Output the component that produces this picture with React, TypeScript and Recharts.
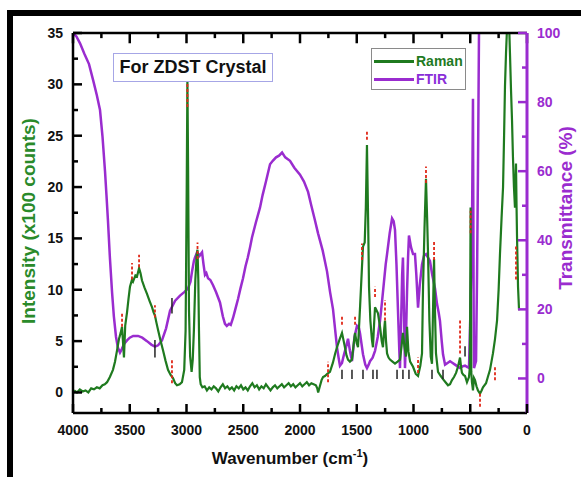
import { LineChart, Line, XAxis, YAxis, ReferenceLine, Legend } from 'recharts';

const GREEN = '#1f7a1f';
const PURPLE = '#9a2ccf';
const FONT = '"Liberation Sans", Arial, sans-serif';

// Raman spectrum (left axis, x100 counts)
const ramanWavenumber = [
  3990, 3965, 3940, 3915, 3890, 3865, 3840, 3815, 3790, 3765, 3740, 3720, 3700, 3675, 3648, 3630, 3612, 3595,
  3580, 3568, 3560, 3551, 3540, 3524, 3510, 3498, 3480, 3471, 3450, 3436, 3418, 3405, 3392, 3370, 3348, 3325,
  3304, 3290, 3278, 3265, 3251, 3230, 3207, 3185, 3163, 3140, 3119, 3100, 3084, 3060, 3040, 3020, 3008, 2998,
  2992, 2986, 2978, 2968, 2955, 2945, 2935, 2922, 2910, 2903, 2896, 2890, 2883, 2875,
  2860, 2840, 2820, 2800, 2780, 2760, 2740, 2720, 2700, 2680, 2660, 2640, 2620, 2600, 2580, 2560, 2540, 2520,
  2500, 2480, 2460, 2440, 2420, 2400, 2380, 2360, 2340, 2320, 2300, 2280, 2260, 2240, 2220, 2200, 2180, 2160,
  2140, 2120, 2100, 2080, 2060, 2040, 2020, 2000, 1980, 1960, 1940, 1920, 1900, 1880, 1860,
  1848, 1840, 1825, 1810, 1797, 1780, 1760, 1736, 1710, 1690, 1674, 1650, 1630, 1615, 1604, 1590, 1577, 1560,
  1542, 1528, 1515, 1500, 1489, 1470, 1454, 1445, 1430, 1420, 1410, 1400, 1392, 1380, 1366, 1357, 1348, 1339,
  1326, 1313, 1295, 1280, 1269, 1258, 1251, 1242, 1233, 1220, 1207, 1185, 1163, 1140, 1119, 1105, 1093, 1080,
  1066, 1057, 1045, 1030, 1004, 980, 960, 940, 925, 916, 903, 890, 880, 872, 860, 848, 837, 828, 819, 811, 802,
  784, 760, 740, 718, 696, 678, 661, 643, 625, 608, 590, 580, 573, 560, 546, 529, 511, 503, 497, 491, 485, 476,
  467, 458, 445, 432, 414, 400, 388, 361, 345, 326, 300, 282, 264, 250, 238, 224, 211, 202, 194, 185, 176, 167,
  158, 150, 141, 132, 124, 115, 106, 97, 92, 88, 79, 70,
];
const ramanIntensity = [
  0.2, 0.0, 0.3, 0.1, 0.2, 0.0, 0.4, 0.3, 0.5, 0.4, 0.7, 0.8, 1.0, 1.5, 2.2, 3.0, 4.1, 5.2,
  5.8, 6.4, 5.0, 3.4, 6.5, 7.8, 9.2, 10.3, 11.0, 10.8, 11.4, 11.3, 12.1, 11.6, 10.9, 10.2, 9.6, 8.9,
  8.3, 7.8, 7.5, 6.8, 6.1, 5.1, 4.1, 3.1, 2.2, 1.7, 1.4, 0.9, 0.7, 0.8, 1.0, 2.2, 6.0, 20.0,
  30.5, 22.0, 8.0, 3.5, 2.0, 3.2, 6.0, 11.0, 13.4, 13.9, 11.0, 6.0, 1.5, 0.8,
  0.5, 0.6, 0.2, 0.5, 0.3, 0.6, 0.4, 0.1, 0.5, 0.8, 0.4, 0.6, 0.3, 0.5, 0.2, 0.6, 0.4, 0.7,
  0.3, 0.5, 0.2, 0.6, 0.9, 0.5, 0.7, 0.3, 0.6, 0.4, 0.8, 0.5, 0.2, 0.5, 0.7, 0.4, 0.6, 0.8,
  0.5, 0.7, 0.9, 0.6, 0.8, 0.5, 0.7, 0.9, 0.6, 0.8, 1.0, 0.7, 0.9, 0.8, 0.7,
  0.4, 0.0, 0.6, 1.2, 1.5, 1.6, 1.8, 2.0, 2.9, 3.8, 4.4, 5.2, 5.8, 5.0, 4.4, 3.6, 3.2, 3.0,
  3.2, 4.6, 5.8, 4.8, 4.4, 8.5, 12.2, 14.2, 14.6, 18.0, 24.1, 17.0, 10.3, 7.0, 5.1, 4.4, 6.5, 8.3,
  8.0, 7.7, 6.4, 5.0, 4.4, 6.2, 7.0, 5.0, 3.8, 3.4, 3.2, 3.0, 2.8, 3.0, 3.2, 4.5, 5.8, 4.5,
  3.5, 6.4, 4.0, 3.0, 2.5, 1.8, 1.6, 2.6, 3.8, 10.3, 16.0, 20.8, 17.0, 13.5, 7.0, 3.5, 2.8, 8.0, 13.0, 8.0, 3.8,
  2.0, 1.6, 1.3, 1.0, 0.7, 0.8, 1.2, 1.5, 1.9, 2.5, 3.4, 2.4, 1.9, 1.7, 1.6, 1.0, 1.5, 2.5, 18.0, 2.0, 1.0, 0.2,
  1.4, 1.2, 0.6, 0.2, -0.1, 0.2, 0.5, 0.9, 1.5, 2.2, 3.8, 5.2, 7.0, 10.0, 13.5, 17.0, 20.0, 25.0, 29.8, 33.0, 35.5, 38.0,
  36.0, 33.0, 29.5, 26.5, 23.0, 20.0, 18.0, 22.3, 18.0, 15.2, 10.3, 8.0,
];

// FTIR spectrum (right axis, %)
const ftirWavenumber = [
  4000, 3970, 3938, 3900, 3859, 3820, 3790, 3762, 3740, 3718, 3705, 3692, 3675, 3656, 3640, 3621, 3605, 3586,
  3570, 3550, 3524, 3500, 3470, 3427, 3390, 3348, 3310, 3278, 3250, 3216, 3180, 3145, 3100, 3057, 3020, 2987,
  2965, 2951, 2935, 2925, 2907, 2885, 2863, 2850, 2837, 2825, 2810, 2790, 2766, 2740, 2705, 2680, 2661, 2645,
  2625, 2610, 2590, 2570, 2546, 2525, 2502, 2480, 2460, 2440, 2423, 2390, 2352, 2330, 2300, 2264, 2240, 2211,
  2185, 2158, 2130, 2088, 2050, 2000, 1965, 1929, 1900, 1870, 1841, 1800, 1762, 1735, 1709, 1690, 1674, 1660,
  1648, 1630, 1612, 1595, 1577, 1560, 1542, 1520, 1498, 1480, 1471, 1458, 1445, 1425, 1410, 1395, 1383, 1360,
  1339, 1315, 1295, 1278, 1260, 1245, 1233, 1210, 1189, 1175, 1163, 1150, 1137, 1125, 1119, 1110, 1100, 1093,
  1084, 1075, 1066, 1057, 1048, 1040, 1022, 1004, 987, 975, 960, 945, 925, 908, 890, 872, 855, 835, 810, 793,
  778, 767, 752, 740, 722, 700, 678, 655, 634, 612, 590, 568, 546, 525, 511, 498, 484, 476, 470, 467, 458, 449,
  440, 432, 423, 414,
];
const ftirTransmittance = [
  100, 99, 97, 94, 91, 86, 82, 77.7, 70, 60, 53, 45.7, 35, 25, 18, 12, 9, 7.5,
  8.5, 10, 11, 11.8, 12.3, 12.3, 11.8, 10.8, 9.8, 9.2, 9.6, 11, 14.5, 19.6, 22.5, 24, 25, 26,
  28, 31, 34, 35, 36.5, 35.5, 36.5, 33, 30, 30.5, 29, 28.5, 27, 25, 22, 18, 15.8, 15.2,
  15.8, 15.5, 17.5, 20, 23, 26, 29, 32.5, 35, 38, 40.8, 45, 49.5, 53, 57, 62, 63, 64,
  64.5, 65.4, 64, 63, 61, 59, 57, 54, 50, 46, 42, 37, 31, 25, 20, 14, 9, 6,
  3.7, 4.5, 7, 9, 11.5, 8, 5, 12, 15.2, 14.5, 13, 10, 7, 4, 3, 4, 5, 6,
  8, 12, 16.7, 22, 28, 33, 36, 42, 46.3, 45.5, 43, 33, 20, 8, 3, 15, 30, 35,
  20, 3, 12, 25, 35, 41.4, 38, 36, 36, 30, 20.5, 27, 33, 35.5, 36, 35, 34, 30, 26, 21.6,
  19, 16.7, 11, 7, 4, 4.5, 5, 4.5, 4, 3.5, 3, 3.5, 3.7, 3.3, 3, 20, 45.7, 81, 20, 3, 4, 5,
  30, 60, 100, 125,
];

// peak labels (red dashes) and band markers (black), in intensity units
const peakMarkWavenumber = [3568, 3480, 3418, 3278, 3128, 2992, 2903, 1753, 1630, 1515, 1454, 1410, 1339, 1251, 960, 890, 819, 590, 497, 414, 282, 97];
const peakMarkLow = [6.4, 11.0, 12.2, 7.3, 0.9, 27.8, 13.0, 1.0, 6.6, 6.6, 12.9, 24.6, 9.3, 7.0, 1.9, 20.4, 12.9, 3.8, 15.5, -1.4, 1.2, 11.0];
const peakMarkHigh = [7.8, 12.6, 13.4, 8.5, 3.3, 31.2, 14.6, 3.0, 7.4, 7.4, 14.5, 25.4, 10.3, 9.0, 3.4, 22.0, 14.7, 7.0, 17.7, 0.0, 2.5, 14.2];
const bandMarkWavenumber = [3278, 3128, 1630, 1542, 1445, 1357, 1322, 1145, 1093, 1040, 837, 740, 546];
const bandMarkLow = [3.4, 7.7, 1.3, 1.3, 1.3, 1.3, 1.3, 1.3, 1.3, 1.3, 1.3, 1.3, 3.5];
const bandMarkHigh = [5.1, 9.2, 2.2, 2.2, 2.2, 2.2, 2.2, 2.2, 2.2, 2.2, 2.2, 2.2, 4.5];

const xTicks = [0, 250, 500, 750, 1000, 1250, 1500, 1750, 2000, 2250, 2500, 2750, 3000, 3250, 3500, 3750, 4000];
const leftTicks = [0, 2.5, 5, 7.5, 10, 12.5, 15, 17.5, 20, 22.5, 25, 27.5, 30, 32.5, 35];
const rightTicks = [0, 10, 20, 30, 40, 50, 60, 70, 80, 90, 100];

const ramanData = ramanWavenumber.map((w, i) => ({ w, raman: ramanIntensity[i] }));
const ftirData = ftirWavenumber.map((w, i) => ({ w, ftir: ftirTransmittance[i] }));

const labelStyle = { fontFamily: FONT, fontWeight: 700, fontSize: 14 };

const BottomTick = ({ x, y, payload }: any) => {
  const major = payload.value % 500 === 0;
  const axisY = y - 17;
  return (
    <g>
      <line x1={x} x2={x} y1={axisY} y2={axisY - (major ? 9 : 5)} stroke="#000" strokeWidth={2.5} />
      {major && (
        <text x={x} y={y} dy="0.35em" textAnchor="middle" fill="#111" style={labelStyle}>
          {payload.value}
        </text>
      )}
    </g>
  );
};

const LeftTick = ({ x, y, payload }: any) => {
  const major = payload.value % 5 === 0;
  const axisX = x + 10;
  return (
    <g>
      <line x1={axisX} x2={axisX + (major ? 9 : 5)} y1={y} y2={y} stroke="#000" strokeWidth={2.5} />
      {major && (
        <text x={x} y={y} dy="0.35em" textAnchor="end" fill="#111" style={labelStyle}>
          {payload.value}
        </text>
      )}
    </g>
  );
};

const RightTick = ({ x, y, payload }: any) => {
  const major = payload.value % 20 === 0;
  const axisX = x - 10;
  return (
    <g>
      <line x1={axisX} x2={axisX - (major ? 9 : 5)} y1={y} y2={y} stroke={PURPLE} strokeWidth={2.5} />
      {major && (
        <text x={x} y={y} dy="0.35em" textAnchor="start" fill={PURPLE} style={labelStyle}>
          {payload.value}
        </text>
      )}
    </g>
  );
};

const LegendBox = () => (
  <div
    style={{
      width: 95,
      height: 42,
      border: '1px solid #8a8a8a',
      background: '#fff',
      fontFamily: FONT,
      fontWeight: 700,
      fontSize: 14,
      boxSizing: 'border-box',
      paddingTop: 3,
    }}
  >
    {[
      { name: 'Raman', color: GREEN, text: GREEN },
      { name: 'FTIR', color: PURPLE, text: '#8a2ed8' },
    ].map((s) => (
      <div key={s.name} style={{ display: 'flex', alignItems: 'center', height: 18 }}>
        <div style={{ width: 40, height: 3, background: s.color, marginLeft: 2, marginRight: 2 }} />
        <span style={{ color: s.text }}>{s.name}</span>
      </div>
    ))}
  </div>
);

export default function App() {
  return (
    <div style={{ position: 'absolute', left: 0, top: 0, width: 581, height: 477, background: '#fff', overflow: 'hidden' }}>
      <div
        style={{
          position: 'absolute',
          left: 7,
          top: 10,
          width: 600,
          height: 500,
          borderTop: '6px solid #000',
          borderLeft: '6px solid #000',
        }}
      />
      <LineChart width={581} height={477} margin={{ top: 23, right: 14, bottom: 24, left: 33 }}>
        <XAxis
          xAxisId="x"
          type="number"
          dataKey="w"
          domain={[0, 4000]}
          reversed
          allowDataOverflow
          ticks={xTicks}
          interval={0}
          height={40}
          tickSize={0}
          tickMargin={17}
          tickLine={false}
          axisLine={{ stroke: '#000', strokeWidth: 2.5 }}
          tick={<BottomTick />}
        />
        <XAxis
          xAxisId="top"
          orientation="top"
          type="number"
          domain={[0, 4000]}
          reversed
          allowDataOverflow
          height={10}
          tick={false}
          tickLine={false}
          axisLine={{ stroke: '#000', strokeWidth: 2.5 }}
        />
        <YAxis
          yAxisId="left"
          type="number"
          domain={[-2, 35]}
          allowDataOverflow
          ticks={leftTicks}
          interval={0}
          width={40}
          tickSize={0}
          tickMargin={10}
          tickLine={false}
          axisLine={{ stroke: '#000', strokeWidth: 2.5 }}
          tick={<LeftTick />}
        />
        <YAxis
          yAxisId="right"
          orientation="right"
          type="number"
          domain={[-10, 100]}
          allowDataOverflow
          ticks={rightTicks}
          interval={0}
          width={40}
          tickSize={0}
          tickMargin={10}
          tickLine={false}
          axisLine={{ stroke: PURPLE, strokeWidth: 3 }}
          tick={<RightTick />}
        />
        <Line
          xAxisId="x"
          yAxisId="right"
          data={ftirData}
          dataKey="ftir"
          name="FTIR"
          type="linear"
          stroke={PURPLE}
          strokeWidth={2.5}
          dot={false}
          isAnimationActive={false}
        />
        <Line
          xAxisId="x"
          yAxisId="left"
          data={ramanData}
          dataKey="raman"
          name="Raman"
          type="linear"
          stroke={GREEN}
          strokeWidth={2.2}
          dot={false}
          isAnimationActive={false}
        />
        {/* inward tick marks hanging from the top frame line */}
        {xTicks.map((w) => (
          <ReferenceLine
            key={`t${w}`}
            xAxisId="x"
            yAxisId="left"
            segment={[{ x: w, y: 35 }, { x: w, y: w % 500 === 0 ? 34.0 : 34.5 }]}
            stroke="#000"
            strokeWidth={2.5}
            ifOverflow="visible"
          />
        ))}
        {bandMarkWavenumber.map((w, i) => (
          <ReferenceLine
            key={`b${i}`}
            xAxisId="x"
            yAxisId="left"
            segment={[{ x: w, y: bandMarkLow[i] }, { x: w, y: bandMarkHigh[i] }]}
            stroke="#222"
            strokeWidth={1.5}
            ifOverflow="visible"
          />
        ))}
        {peakMarkWavenumber.map((w, i) => (
          <ReferenceLine
            key={`p${i}`}
            xAxisId="x"
            yAxisId="left"
            segment={[{ x: w, y: peakMarkLow[i] }, { x: w, y: peakMarkHigh[i] }]}
            stroke="#e02818"
            strokeWidth={1.8}
            strokeDasharray="3 2"
            ifOverflow="visible"
          />
        ))}
        <Legend
          layout="vertical"
          verticalAlign="middle"
          align="center"
          wrapperStyle={{ left: 371, top: 48, width: 95 }}
          content={() => <LegendBox />}
        />
      </LineChart>
      <div
        style={{
          position: 'absolute',
          left: 113,
          top: 53,
          width: 160,
          height: 29,
          border: '1px solid #a6a6e6',
          boxSizing: 'border-box',
          display: 'flex',
          alignItems: 'center',
          justifyContent: 'center',
          fontFamily: FONT,
          fontWeight: 700,
          fontSize: 18,
          color: '#111',
          background: '#fff',
        }}
      >
        For ZDST Crystal
      </div>
      <div
        style={{
          position: 'absolute',
          left: 190,
          top: 447,
          width: 200,
          textAlign: 'center',
          fontFamily: FONT,
          fontWeight: 700,
          fontSize: 17,
          color: '#111',
        }}
      >
        Wavenumber (cm<sup style={{ fontSize: 11 }}>-1</sup>)
      </div>
      <div
        style={{
          position: 'absolute',
          left: 29,
          top: 221,
          transform: 'translate(-50%, -50%) rotate(-90deg)',
          whiteSpace: 'nowrap',
          fontFamily: FONT,
          fontWeight: 700,
          fontSize: 19,
          color: '#2a8a2a',
        }}
      >
        Intensity (x100 counts)
      </div>
      <div
        style={{
          position: 'absolute',
          left: 566,
          top: 208,
          transform: 'translate(-50%, -50%) rotate(-90deg)',
          whiteSpace: 'nowrap',
          fontFamily: FONT,
          fontWeight: 700,
          fontSize: 19,
          color: '#9a2ccf',
        }}
      >
        Transmittance (%)
      </div>
    </div>
  );
}
